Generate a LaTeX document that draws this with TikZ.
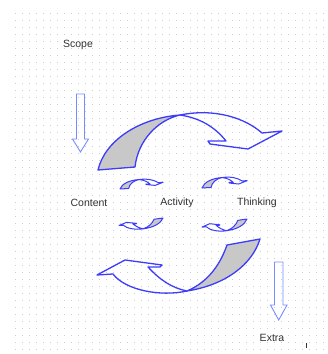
\documentclass[tikz,border=0pt]{standalone}
\usepackage{fontspec}
\setmainfont{Liberation Sans}
\definecolor{arrowblue}{RGB}{60,60,250}
\definecolor{lightblue}{RGB}{120,140,255}
\definecolor{arrowfill}{RGB}{200,200,200}
\definecolor{dotgray}{RGB}{205,205,205}
\definecolor{textgray}{RGB}{50,50,50}
\newcommand\myArrowTop{%
  \filldraw[graypart] (98,170) .. controls (105,140) and (140,118) .. (180,115)
    .. controls (158,120) and (138,140) .. (135,167) -- cycle;
  \draw[whitepart] (180,115) .. controls (215,108) and (245,118) .. (262,133)
    -- (282,131) -- (248,149) -- (210,144) -- (208,141) -- (226,141)
    .. controls (215,127) and (200,118) .. (180,115) -- cycle;
}
\newcommand\myArrowBottom{%
  \filldraw[graypart] (260,239) .. controls (252,265) and (225,285) .. (187,291)
    .. controls (208,282) and (220,265) .. (227,245) -- cycle;
  \draw[whitepart] (187,291) .. controls (160,297) and (125,290) .. (113,274)
    -- (97,275) -- (125,260) -- (162,265) -- (160,267) -- (148,267)
    .. controls (160,280) and (172,288) .. (187,291) -- cycle;
}
\tikzset{
  graypart/.style={draw=arrowblue, fill=arrowfill, line width=1.3pt, line join=round},
  whitepart/.style={draw=arrowblue, line width=1.3pt, line join=round},
  downarrow/.style={draw=lightblue, line width=0.9pt, line join=miter},
  label/.style={font=\fontsize{10.5}{12}\selectfont, text=textgray, inner sep=0pt}
}
\begin{document}
\begin{tikzpicture}[x=1pt,y=-1pt]
\useasboundingbox (0,0) rectangle (328,354);
\fill[white] (0,0) rectangle (328,354);
% dotted grid background
\foreach \x in {15,22,...,328} {
  \foreach \y in {13,20,...,354} {
    \fill[dotgray] (\x,\y) rectangle ++(1,1);
  }
}
% big curved arrows
\myArrowTop
\myArrowBottom
% small curved arrows
\begin{scope}[shift={(120,189)}, xscale=0.234, yscale=0.172, shift={(-98,-170)}]
  \tikzset{graypart/.append style={line width=1pt}, whitepart/.append style={line width=1pt}}
  \myArrowTop
\end{scope}
\begin{scope}[shift={(202,188)}, xscale=0.245, yscale=0.19, shift={(-98,-170)}]
  \tikzset{graypart/.append style={line width=1pt}, whitepart/.append style={line width=1pt}}
  \myArrowTop
\end{scope}
\begin{scope}[shift={(119,218)}, xscale=0.27, yscale=0.207, shift={(-97,-239)}]
  \tikzset{graypart/.append style={line width=1pt}, whitepart/.append style={line width=1pt}}
  \myArrowBottom
\end{scope}
\begin{scope}[shift={(202,219)}, xscale=0.276, yscale=0.224, shift={(-97,-239)}]
  \tikzset{graypart/.append style={line width=1pt}, whitepart/.append style={line width=1pt}}
  \myArrowBottom
\end{scope}
% straight down arrows
\draw[downarrow] (76.5,94) -- (84.5,94) -- (84.5,139) -- (88.5,139) -- (80.5,152)
  -- (72.5,139) -- (76.5,139) -- cycle;
\draw[downarrow] (274.5,262) -- (283,262) -- (283,305) -- (287,305) -- (278.7,320)
  -- (270.5,305) -- (274.5,305) -- cycle;
% labels
\node[label] (scope) at (78,45) {Scope};
\node[label] (content) at (89,203) {Content};
\node[label] (activity) at (177,203) {Activity};
\node[label] (thinking) at (257,203) {Thinking};
\node[label] (extra) at (272,338) {Extra};
\draw[textgray, line width=0.5pt] (306,343) -- (306,348);
\end{tikzpicture}
\end{document}
